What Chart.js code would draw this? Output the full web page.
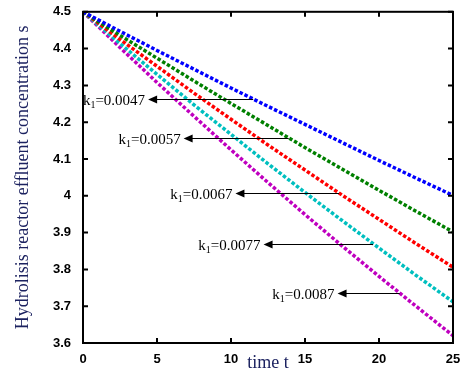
<!DOCTYPE html>
<html>
<head>
<meta charset="utf-8">
<title>Hydrolisis reactor effluent concentration</title>
<script src="https://cdn.jsdelivr.net/npm/chart.js@4.4.1/dist/chart.umd.min.js"></script>
<style>
  html, body { margin: 0; padding: 0; background: #fff; }
  #wrap { width: 466px; height: 374px; }
</style>
</head>
<body>
<div id="wrap"><canvas id="myChart" width="466" height="374"></canvas></div>
<script>
// time axis
const times = [0, 2.5, 5, 7.5, 10, 12.5, 15, 17.5, 20, 22.5, 25];

// concentration s for each k1
const s0047 = [4.500, 4.447, 4.395, 4.344, 4.293, 4.243, 4.194, 4.145, 4.096, 4.048, 4.001];
const s0057 = [4.500, 4.436, 4.374, 4.312, 4.251, 4.191, 4.131, 4.073, 4.015, 3.958, 3.902];
const s0067 = [4.500, 4.425, 4.352, 4.279, 4.208, 4.138, 4.070, 4.002, 3.936, 3.870, 3.806];
const s0077 = [4.500, 4.414, 4.330, 4.247, 4.167, 4.087, 4.009, 3.933, 3.858, 3.784, 3.712];
const s0087 = [4.500, 4.403, 4.308, 4.216, 4.125, 4.036, 3.949, 3.864, 3.781, 3.700, 3.620];

const kValues = ['0.0047', '0.0057', '0.0067', '0.0077', '0.0087'];
const xTicks = [0, 5, 10, 15, 20, 25];
const yTicks = [3.6, 3.7, 3.8, 3.9, 4, 4.1, 4.2, 4.3, 4.4, 4.5];

// arrows: tail on the curve, head pointing at the label
const arrowTailT = [11.5, 13.9, 17.3, 19.6, 21.4];
const arrowHeadT = [4.4, 6.8, 10.3, 12.2, 17.2];
const arrowS = [4.263, 4.157, 4.008, 3.870, 3.735];

const colors = ['#0000ff', '#008000', '#ff0000', '#00bfbf', '#bf00bf'];
const series = [s0047, s0057, s0067, s0077, s0087];

const datasets = series.map((vals, i) => ({
    label: 'k1=' + kValues[i],
    data: vals.map((v, j) => ({ x: times[j], y: v })),
    borderColor: colors[i],
    backgroundColor: colors[i],
    borderWidth: 3.5,
    borderDash: [3.5, 2],
    pointRadius: 0,
    tension: 0
}));

// box, inward ticks and the k1 arrows
const decorPlugin = {
    id: 'decor',
    afterDatasetsDraw(chart) {
        const ctx = chart.ctx;
        const xs = chart.scales.x;
        const ys = chart.scales.y;
        const a = chart.chartArea;
        ctx.save();

        // arrows and labels
        ctx.strokeStyle = '#000';
        ctx.fillStyle = '#000';
        ctx.lineWidth = 1;
        kValues.forEach((k, i) => {
            const yy = Math.round(ys.getPixelForValue(arrowS[i])) + 0.5;
            const x1 = xs.getPixelForValue(arrowTailT[i]);
            const x0 = xs.getPixelForValue(arrowHeadT[i]);
            ctx.beginPath();
            ctx.moveTo(x1, yy);
            ctx.lineTo(x0 + 6, yy);
            ctx.stroke();
            ctx.beginPath();
            ctx.moveTo(x0, yy);
            ctx.lineTo(x0 + 9, yy - 4);
            ctx.lineTo(x0 + 9, yy + 4);
            ctx.closePath();
            ctx.fill();

            // label text k1=...
            const rest = '=' + k;
            ctx.textBaseline = 'alphabetic';
            ctx.textAlign = 'left';
            ctx.font = '15px "Liberation Serif"';
            const wRest = ctx.measureText(rest).width;
            const wK = ctx.measureText('k').width;
            ctx.font = '10px "Liberation Serif"';
            const wSub = ctx.measureText('1').width;
            let tx = x0 - 3 - (wK + wSub + wRest);
            const base = yy + 5;
            ctx.font = '15px "Liberation Serif"';
            ctx.fillText('k', tx, base);
            tx += wK;
            ctx.font = '10px "Liberation Serif"';
            ctx.fillText('1', tx, base + 3);
            tx += wSub;
            ctx.font = '15px "Liberation Serif"';
            ctx.fillText(rest, tx, base);
        });

        // axes box
        ctx.lineWidth = 2;
        ctx.strokeStyle = '#000';
        ctx.strokeRect(a.left, a.top, a.right - a.left, a.bottom - a.top);

        // inward ticks
        const tl = 5;
        ctx.beginPath();
        xTicks.forEach(t => {
            const px = xs.getPixelForValue(t);
            ctx.moveTo(px, a.bottom); ctx.lineTo(px, a.bottom - tl);
            ctx.moveTo(px, a.top); ctx.lineTo(px, a.top + tl);
        });
        yTicks.forEach(v => {
            const py = ys.getPixelForValue(v);
            ctx.moveTo(a.left, py); ctx.lineTo(a.left + tl, py);
            ctx.moveTo(a.right, py); ctx.lineTo(a.right - tl, py);
        });
        ctx.stroke();
        ctx.restore();
    }
};

const ctx = document.getElementById('myChart').getContext('2d');
new Chart(ctx, {
    type: 'line',
    data: { datasets: datasets },
    options: {
        responsive: false,
        animation: false,
        layout: { padding: { left: 0, top: 8, right: 13, bottom: 0 } },
        plugins: {
            legend: { display: false },
            tooltip: { enabled: false }
        },
        scales: {
            x: {
                type: 'linear',
                min: 0,
                max: 25,
                afterBuildTicks: (scale) => { scale.ticks = xTicks.map(v => ({ value: v })); },
                afterFit: (scale) => { scale.height = 31; },
                grid: { display: false },
                border: { display: false },
                ticks: {
                    padding: 1,
                    color: '#000',
                    font: { family: '"Liberation Sans"', size: 13, weight: 'bold' }
                },
                title: {
                    display: true,
                    text: 'time t',
                    color: '#1c2260',
                    font: { family: '"Liberation Serif"', size: 18 },
                    padding: { top: -10, bottom: 0 }
                }
            },
            y: {
                type: 'linear',
                min: 3.6,
                max: 4.5,
                afterBuildTicks: (scale) => { scale.ticks = yTicks.map(v => ({ value: v })); },
                afterFit: (scale) => { scale.width = 83; },
                grid: { display: false },
                border: { display: false },
                ticks: {
                    padding: 4,
                    color: '#000',
                    font: { family: '"Liberation Sans"', size: 13, weight: 'bold' },
                    callback: (v) => String(Math.round(v * 10) / 10)
                },
                title: {
                    display: true,
                    text: 'Hydrolisis reactor effluent concentration s',
                    color: '#1c2260',
                    font: { family: '"Liberation Serif"', size: 18 },
                    padding: { top: 12, bottom: 0 }
                }
            }
        }
    },
    plugins: [decorPlugin]
});
</script>
</body>
</html>
